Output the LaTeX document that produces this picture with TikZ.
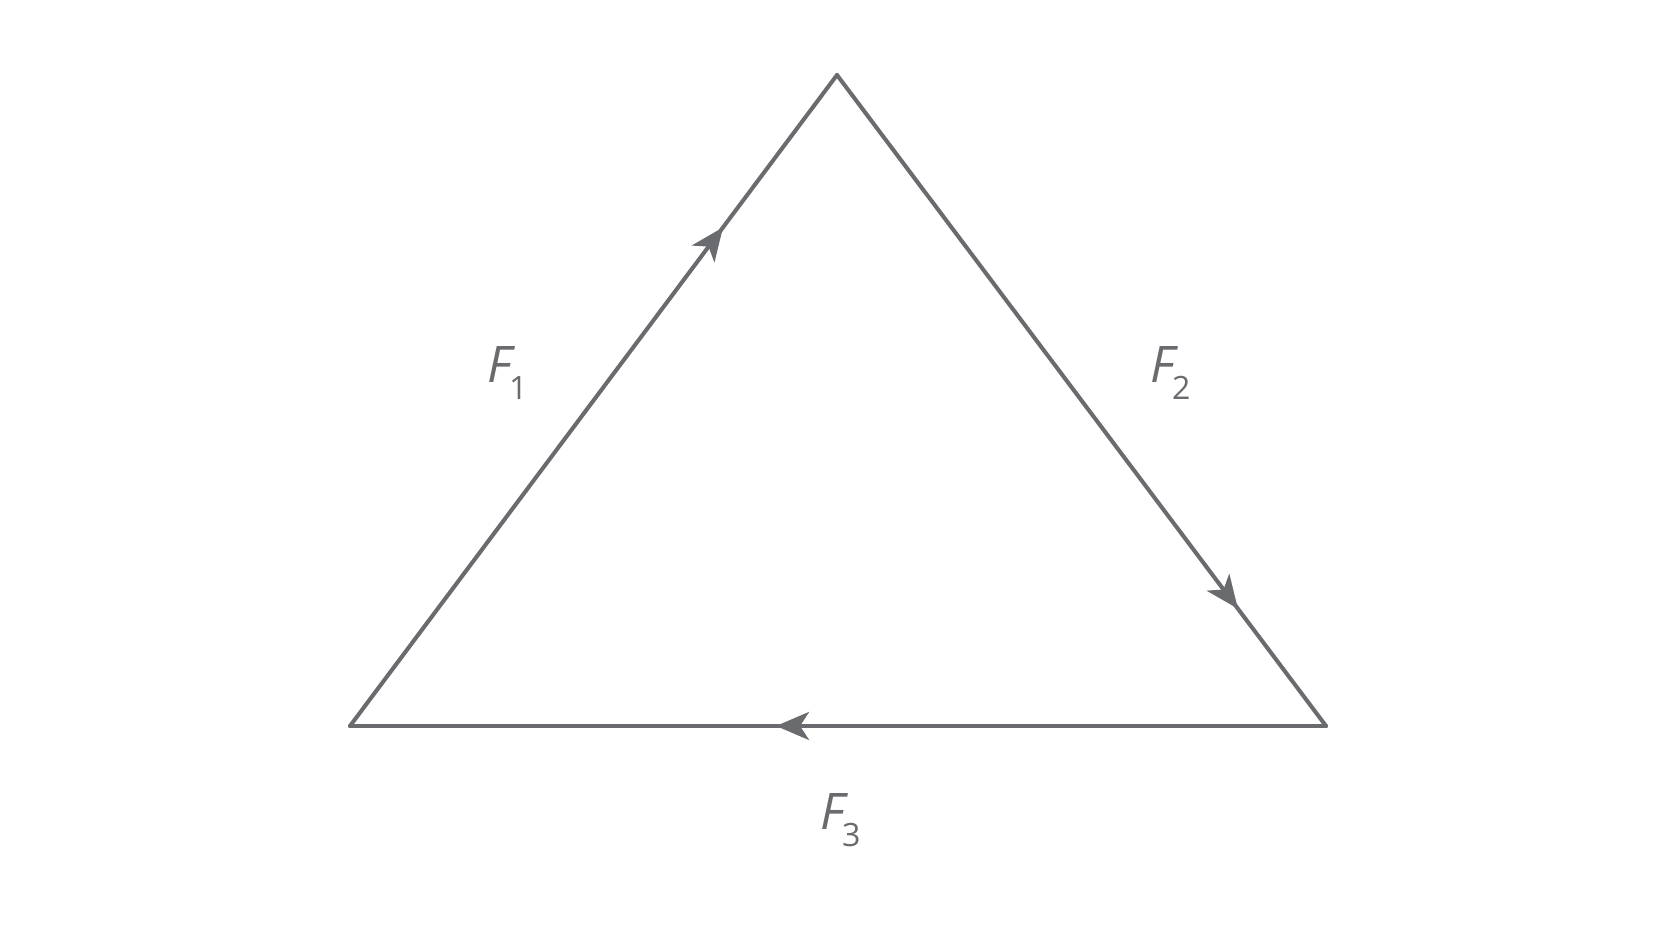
\documentclass[tikz,border=0pt]{standalone}
\usepackage{fontspec}
\setmainfont{Open Sans}
\usetikzlibrary{arrows.meta,decorations.markings}
\definecolor{fgray}{RGB}{106,107,111}
\newcommand{\forcelabel}[1]{\textit{F}\kern-3.5pt\raisebox{-9.2pt}{\fontsize{18.3}{20}\selectfont #1}}

\begin{document}
\begin{tikzpicture}
		[x=1cm,y=1cm,
		 forcetip/.tip={Stealth[length=0.66cm, width=0.56cm, inset=0.18cm]}]
		\tikzstyle{side}=[draw=fgray, line width=2.3pt, line cap=round]
		\tikzstyle{every node}=[text=fgray, font=\fontsize{28.7}{32}\selectfont, inner sep=0pt, anchor=base west]
		\useasboundingbox (0,0) rectangle (33.44,18.82);
		%-----corners
		 \coordinate (L) at (7.00,4.30);
		 \coordinate (T) at (16.74,17.32);
		 \coordinate (R) at (26.52,4.30);
		%-----labels
		 \node (F1) at (9.74,11.16) {\forcelabel{1}};
		 \node (F2) at (23.00,11.16) {\forcelabel{2}};
		 \node (F3) at (16.40,2.22) {\forcelabel{3}};
		 
		 \foreach \from/\to/\pos in {L/T/0.766,T/R/0.82,R/L/0.5635}
		 \path[side, postaction={decorate, decoration={markings,
		   mark=at position \pos with {\arrow[fgray]{forcetip}}}}] (\from) -- (\to);
		 
\end{tikzpicture}
\end{document}
